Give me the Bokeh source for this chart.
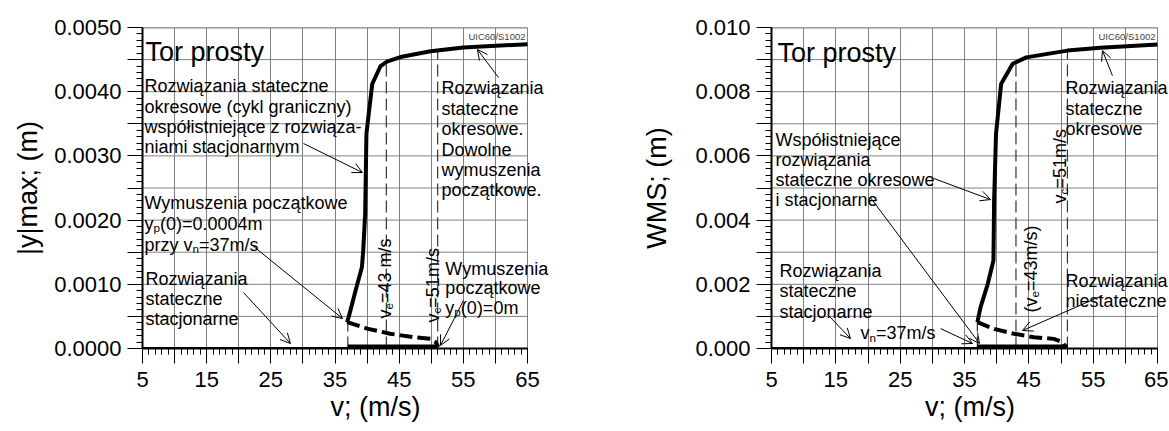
import math
from bokeh.plotting import figure
from bokeh.models import Range1d, FixedTicker, Label, Arrow, OpenHead
from bokeh.layouts import row
from bokeh.embed import file_html
from bokeh.resources import INLINE

FONT = "Liberation Sans"

# ---------------- data: left panel |y|max ----------------
v_per_L = [36.9, 37.4, 38.2, 39.2, 39.4, 39.7, 39.9, 40.8, 42.1, 43.1, 45.2, 49.9, 55.0, 65.0]
y_per_L = [0.00041, 0.00059, 0.0009, 0.00127, 0.00153, 0.0021, 0.00335, 0.00412, 0.0044,
           0.00447, 0.00454, 0.00463, 0.00469, 0.00474]
v_uns_L = [36.9, 40.0, 43.6, 47.2, 49.9, 50.7, 51.1]
y_uns_L = [0.00041, 0.00031, 0.00023, 0.000176, 0.00015, 0.0001, 0.00002]

# ---------------- data: right panel WMS ----------------
v_per_R = [37.0, 37.5, 38.6, 39.5, 39.6, 39.9, 40.7, 42.5, 44.6, 51.0, 56.1, 65.0]
y_per_R = [0.00082, 0.00129, 0.0020, 0.00274, 0.0046, 0.00669, 0.00825, 0.00887, 0.00907,
           0.00928, 0.00937, 0.00947]
v_uns_R = [37.0, 39.6, 42.7, 45.8, 48.9, 50.2, 50.8]
y_uns_R = [0.00082, 0.00061, 0.00046, 0.00035, 0.0003, 0.0002, 0.00003]

# stationary (zero) solutions
v_stat = [5, 37, 51]
y_stat = [0, 0, 0]

# characteristic speeds v_n, v_e, v_c and top of their marker lines
v_marks = [37, 43, 51]
y_marks_L = [0.00041, 0.00447, 0.00463]
y_marks_R = [0.00082, 0.00888, 0.00925]

# ticks
X_MIN, X_MAX = 5, 65
x_major = list(range(5, 66, 5))
x_minor = list(range(5, 66))
x_labels = {t: (str(t) if (t - 5) % 10 == 0 else "") for t in x_major}

yL_major = [round(i * 0.0005, 4) for i in range(11)]
yL_minor = [round(i * 0.0001, 4) for i in range(51)]
yL_labels = {t: (f"{t:.4f}" if i % 2 == 0 else "") for i, t in enumerate(yL_major)}

yR_major = [round(i * 0.001, 3) for i in range(11)]
yR_minor = [round(i * 0.0002, 4) for i in range(51)]
yR_labels = {t: (f"{t:.3f}" if i % 2 == 0 else "") for i, t in enumerate(yR_major)}

# arrows (x_start, y_start, x_end, y_end)
arrows_L = [
    (30.09, 0.003193, 39.28, 0.002741),
    (22.14, 0.001604, 36.17, 0.000467),
    (20.74, 0.000872, 28.06, 0.000078),
    (60.48, 0.004221, 57.20, 0.004657),
    (55.02, 0.000748, 51.44, 0.000047),
]
arrows_R = [
    (30.18, 0.00530, 39.04, 0.00464),
    (20.39, 0.00470, 37.33, 0.000156),
    (58.00, 0.00850, 56.45, 0.00928),
    (13.86, 0.00103, 17.28, 0.00031),
    (31.27, 0.00062, 36.25, 0.000156),
    (56.45, 0.00165, 44.02, 0.00056),
]

# ---------------- helpers ----------------
W = {' ': 278, '(': 333, ')': 333, '.': 278, '/': 278, ';': 278, '=': 584, '-': 333, '|': 260}
for c in "0123456789":
    W[c] = 556
W.update({'A': 667, 'C': 722, 'D': 722, 'I': 278, 'R': 722, 'S': 667, 'T': 611, 'U': 722, 'W': 944,
          'a': 556, 'b': 556, 'c': 500, 'd': 556, 'e': 556, 'f': 278, 'g': 556, 'h': 556, 'i': 222,
          'j': 222, 'k': 500, 'l': 222, 'm': 833, 'n': 556, 'o': 556, 'p': 556, 'q': 556, 'r': 333,
          's': 500, 't': 278, 'u': 556, 'v': 500, 'w': 722, 'x': 500, 'y': 500, 'z': 500,
          'ą': 556, 'ę': 556, 'ó': 556, 'ł': 222, 'ś': 500, 'ć': 500, 'ń': 556, 'ż': 500, 'ź': 500})

TXT = 18  # annotation font size (px)


def tw(s, size):
    return sum(W.get(ch, 556) for ch in s) / 1000.0 * size


def rich(p, x, y, parts, size=TXT, angle=0.0, dx=0.0, dy=0.0):
    if isinstance(parts, str):
        parts = [(parts, 0)]
    cum = 0.0
    for txt, sub in parts:
        fs = size * 0.65 if sub else size
        drop = size * 0.22 if sub else 0.0
        if angle == 0:
            xo, yo = dx + cum, dy - drop
        else:
            xo, yo = dx + drop, dy + cum
        p.add_layout(Label(x=x, y=y, x_offset=xo, y_offset=yo, text=txt, angle=angle,
                           text_font=FONT, text_font_size=f"{fs:.1f}px",
                           text_baseline="alphabetic", text_align="left", text_color="black"))
        cum += tw(txt, fs)


def block(p, x, y, lines, size=TXT, lh=20.4, dx=0.0):
    for k, line in enumerate(lines):
        rich(p, x, y, line, size=size, dy=-k * lh, dx=dx)


def make_fig(width, ymax, ymaj, ymin, ylabels, ylab, mbl, grid_px, title_standoff):
    # the frame runs to the right edge of the figure so that texts may pass x=65;
    # the visible chart box (grid + border) stops at x=65
    frame_px = width - mbl
    x_end = X_MIN + (X_MAX - X_MIN) * frame_px / grid_px
    p = figure(width=width, height=430, x_range=Range1d(X_MIN, x_end), y_range=Range1d(0, ymax),
               output_backend="svg", toolbar_location=None,
               min_border_left=mbl, min_border_right=0, min_border_top=27, min_border_bottom=82)
    p.outline_line_color = None
    p.background_fill_color = "white"
    p.border_fill_color = "white"

    p.xaxis.ticker = FixedTicker(ticks=x_major, minor_ticks=x_minor)
    p.xaxis.major_label_overrides = x_labels
    p.xaxis.bounds = (X_MIN, X_MAX)
    p.yaxis.ticker = FixedTicker(ticks=ymaj, minor_ticks=ymin)
    p.yaxis.major_label_overrides = ylabels
    for ax in (p.xaxis, p.yaxis):
        ax.axis_line_color = "black"
        ax.axis_line_width = 2
        ax.major_tick_in = 0
        ax.major_tick_out = 15
        ax.minor_tick_in = 0
        ax.minor_tick_out = 6
        ax.major_tick_line_color = "black"
        ax.minor_tick_line_color = "black"
        ax.major_tick_line_width = 1
        ax.minor_tick_line_width = 1
        ax.major_label_text_font = FONT
        ax.major_label_text_font_size = "22px"
        ax.major_label_text_color = "black"
        ax.axis_label_text_font = FONT
        ax.axis_label_text_font_size = "27px"
        ax.axis_label_text_font_style = "normal"
        ax.axis_label_text_color = "black"
    p.xaxis.major_label_standoff = 8
    p.yaxis.major_label_standoff = 6
    p.xaxis.axis_label = "v; (m/s)"
    p.xaxis.axis_label_standoff = 2
    p.yaxis.axis_label = ylab
    p.yaxis.axis_label_standoff = title_standoff

    p.xgrid.grid_line_color = "#808080"
    p.xgrid.grid_line_width = 1
    p.ygrid.visible = False
    # horizontal grid lines limited to the chart box
    n = len(ymaj)
    p.segment(x0=[X_MIN] * n, x1=[X_MAX] * n, y0=ymaj, y1=ymaj, line_color="#808080", line_width=1)
    p.segment(x0=[X_MIN], x1=[X_MAX], y0=[ymax], y1=[ymax], line_color="#808080", line_width=2)
    return p


def draw(p, v_per, y_per, v_uns, y_uns, y_marks):
    p.segment(x0=v_marks, y0=[0, 0, 0], x1=v_marks, y1=y_marks,
              line_color="#333333", line_width=1.2, line_dash="12 5")
    p.line(v_stat[:2], y_stat[:2], line_color="black", line_width=3)
    p.line(v_stat[1:], y_stat[1:], line_color="black", line_width=8)
    p.line(v_uns, y_uns, line_color="black", line_width=4, line_dash="13 5")
    p.line(v_per, y_per, line_color="black", line_width=4)


def add_arrows(p, arrs):
    for xs, ys, xe, ye in arrs:
        p.add_layout(Arrow(x_start=xs, y_start=ys, x_end=xe, y_end=ye, line_width=1,
                           line_color="black",
                           end=OpenHead(size=10, line_width=1, line_color="black")))


# ---------------- left figure ----------------
p1 = make_fig(608, 0.005, yL_major, yL_minor, yL_labels, "|y|max; (m)", 142, 385, 8)
draw(p1, v_per_L, y_per_L, v_uns_L, y_uns_L, y_marks_L)
add_arrows(p1, arrows_L)
rich(p1, 5.47, 0.004626, "Tor prosty", size=27)
p1.add_layout(Label(x=65, y=0.00486, x_offset=-2, text="UIC60/S1002", text_font=FONT,
                    text_font_size="9.5px", text_align="right", text_baseline="alphabetic"))
block(p1, 5.31, 0.004081, ["Rozwiązania stateczne", "okresowe (cykl graniczny)",
                           "współistniejące z rozwiąza-", "niami stacjonarnym"], lh=20.3)
block(p1, 5.31, 0.002274, ["Wymuszenia początkowe",
                           [("y", 0), ("p", 1), ("(0)=0.0004m", 0)],
                           [("przy v", 0), ("n", 1), ("=37m/s", 0)]], lh=21)
block(p1, 5.45, 0.001075, ["Rozwiązania", "stateczne", "stacjonarne"], lh=20)
block(p1, 51.6, 0.00405, ["Rozwiązania", "stateczne", "okresowe.", "Dowolne", "wymuszenia",
                          "początkowe."], lh=20.4)
block(p1, 52.2, 0.001246, ["Wymuszenia", "początkowe", [("y", 0), ("p", 1), ("(0)=0m", 0)]], lh=19.5)
rich(p1, 42.87, 0.000467, [("v", 0), ("e", 1), ("=43 m/s", 0)], angle=math.pi / 2)
rich(p1, 50.2, 0.000405, [("v", 0), ("c", 1), ("=51m/s", 0)], angle=math.pi / 2)

# ---------------- right figure ----------------
p2 = make_fig(560, 0.010, yR_major, yR_minor, yR_labels, "WMS; (m)", 163, 386, 20)
draw(p2, v_per_R, y_per_R, v_uns_R, y_uns_R, y_marks_R)
add_arrows(p2, arrows_R)
rich(p2, 5.93, 0.00922, "Tor prosty", size=27)
p2.add_layout(Label(x=65, y=0.00972, x_offset=-2, text="UIC60/S1002", text_font=FONT,
                    text_font_size="9.5px", text_align="right", text_baseline="alphabetic"))
block(p2, 5.62, 0.00651, ["Współistniejące", "rozwiązania", "stateczne okresowe", "i stacjonarne"], lh=20.3)
block(p2, 51.17, 0.0081, ["Rozwiązania", "stateczne", "okresowe"], lh=20.5, dx=-3)
block(p2, 6.24, 0.002408, ["Rozwiązania", "stateczne", "stacjonarne"], lh=20.2)
rich(p2, 18.83, 0.000477, [("v", 0), ("n", 1), ("=37m/s", 0)])
block(p2, 51.17, 0.002118, ["Rozwiązania", "niestateczne"], lh=20, dx=-3)
rich(p2, 45.4, 0.00112, [("(v", 0), ("e", 1), ("=43m/s)", 0)], angle=math.pi / 2)
rich(p2, 49.8, 0.00452, [("v", 0), ("c", 1), ("=51m/s", 0)], angle=math.pi / 2)

layout = row(p1, p2)
open("out.html", "w").write(file_html(layout, INLINE))
